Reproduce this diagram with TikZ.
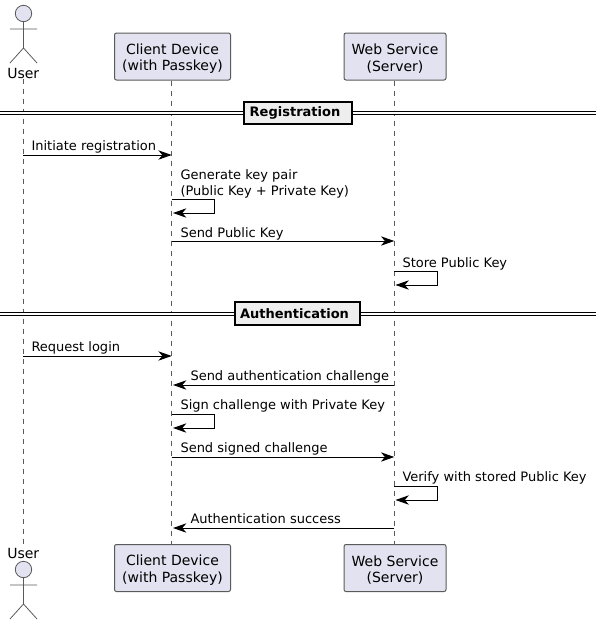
\documentclass[tikz,border=0pt]{standalone}
\usepackage{fontspec}
\setmainfont{DejaVu Sans}
\usetikzlibrary{arrows.meta}

\definecolor{partfill}{HTML}{E2E2F0}
\definecolor{partline}{HTML}{5A5A5A}
\definecolor{sepfill}{HTML}{EEEEEE}

\begin{document}
\begin{tikzpicture}[
            x = 0.75pt, % one unit is one pixel of the reference
            y = -0.75pt,
            > = {Stealth[length=10pt, width=7pt, inset=3pt]}, % arrow head style
            line width = 0.75pt
        ]

        \tikzset{
            part/.style = {
                draw = partline,
                fill = partfill,
                rounded corners = 1.5pt,
                align = center,
                inner sep = 0pt,
                font = \fontsize{10.5}{12.2}\selectfont
            },
            actorlabel/.style = {
                inner sep = 0pt,
                font = \fontsize{10.5}{12.2}\selectfont
            },
            figure/.style = {
                draw = partline,
                line width = 0.6pt
            },
            lifeline/.style = {
                draw = partline,
                line width = 0.5pt,
                dash pattern = on 3.75pt off 3.75pt
            },
            msg/.style = {
                ->,
                draw = black
            },
            msgtext/.style = {
                anchor = base west,
                align = left,
                inner sep = 0pt,
                font = \fontsize{9.75}{11.4}\selectfont
            },
            sepline/.style = {
                draw = black,
                double = white,
                double distance = 1.5pt,
                line width = 0.75pt
            },
            sepbox/.style = {
                draw = black,
                fill = sepfill,
                line width = 1.5pt,
                inner sep = 0pt,
                font = \fontsize{9.75}{11.4}\selectfont\bfseries
            }
        }

        \useasboundingbox (0,0) rectangle (601,625);

        % participants, top row
        \node[actorlabel] (user) at (23.3,73) {User};
        \node[part, minimum width=87pt, minimum height=35.25pt] (client) at (172.5,56.5) {\rule{0pt}{11pt}Client Device\\(with Passkey)};
        \node[part, minimum width=76.5pt, minimum height=35.25pt] (server) at (395,56.5) {\rule{0pt}{11pt}Web Service\\(Server)};

        % participants, bottom row
        \node[actorlabel] (userb) at (23.3,553) {User};
        \node[part, minimum width=87pt, minimum height=35.25pt] (clientb) at (172.5,568) {\rule{0pt}{11pt}Client Device\\(with Passkey)};
        \node[part, minimum width=76.5pt, minimum height=35.25pt] (serverb) at (395,568) {\rule{0pt}{11pt}Web Service\\(Server)};

        % stick figures
        \filldraw[figure, fill=partfill] (23.5,13.5) circle (8.2);
        \draw[figure] (23.5,21.7) -- (23.5,48) (10,29) -- (37,29) (10,63) -- (23.5,48) -- (37,63);
        \filldraw[figure, fill=partfill] (23.5,569.5) circle (8.2);
        \draw[figure] (23.5,577.7) -- (23.5,604) (10,585) -- (37,585) (10,619) -- (23.5,604) -- (37,619);

        % lifelines
        \draw[lifeline] (user.south -| 23.3,0) -- (userb.north -| 23.3,0);
        \draw[lifeline] (171.7,0 |- client.south) -- (171.7,0 |- clientb.north);
        \draw[lifeline] (394.3,0 |- server.south) -- (394.3,0 |- serverb.north);

        % ends of the messages
        \coordinate (u1) at (23.3,155);
        \coordinate (c1) at (171.7,155);
        \coordinate (c2a) at (171.7,199);
        \coordinate (c2r) at (214.5,213);
        \coordinate (c2b) at (173,213);
        \coordinate (c3) at (171.7,241);
        \coordinate (s3) at (394.3,241);
        \coordinate (s4a) at (394.3,271);
        \coordinate (s4r) at (437.5,285);
        \coordinate (s4b) at (395.5,285);
        \coordinate (u5) at (23.3,356);
        \coordinate (c5) at (171.7,356);
        \coordinate (s6) at (394.3,385);
        \coordinate (c6) at (173,385);
        \coordinate (c7a) at (171.7,414);
        \coordinate (c7r) at (214.5,428);
        \coordinate (c7b) at (173,428);
        \coordinate (c8) at (171.7,457);
        \coordinate (s8) at (394.3,457);
        \coordinate (s9a) at (394.3,486);
        \coordinate (s9r) at (437.5,500);
        \coordinate (s9b) at (395.5,500);
        \coordinate (s10) at (394.3,528);
        \coordinate (c10) at (173,528);

        % dividers
        \coordinate (regl) at (0,113);
        \coordinate (regr) at (596,113);
        \coordinate (authl) at (0,313.8);
        \coordinate (authr) at (596,313.8);
        \draw[sepline] (regl) -- (regr);
        \draw[sepline] (authl) -- (authr);
        \node[sepbox, minimum width=81pt, minimum height=17pt] (registration) at (298,113) {Registration\kern4.5pt};
        \node[sepbox, minimum width=94pt, minimum height=17pt] (authentication) at (297.5,313.8) {Authentication\kern4.5pt};

        % messages
        \draw[msg] (u1) -- (c1);
        \draw[msg] (c2a) -| (c2r) -- (c2b);
        \draw[msg] (c3) -- (s3);
        \draw[msg] (s4a) -| (s4r) -- (s4b);
        \draw[msg] (u5) -- (c5);
        \draw[msg] (s6) -- (c6);
        \draw[msg] (c7a) -| (c7r) -- (c7b);
        \draw[msg] (c8) -- (s8);
        \draw[msg] (s9a) -| (s9r) -- (s9b);
        \draw[msg] (s10) -- (c10);

        % message labels
        \node[msgtext] (t1) at (31,150.5) {Initiate registration};
        \node[msgtext] (t2) at (180,195) {Generate key pair\\(Public Key + Private Key)};
        \node[msgtext] (t3) at (180,237) {Send Public Key};
        \node[msgtext] (t4) at (402,267) {Store Public Key};
        \node[msgtext] (t5) at (31,351.5) {Request login};
        \node[msgtext] (t6) at (190,380.5) {Send authentication challenge};
        \node[msgtext] (t7) at (180,409.5) {Sign challenge with Private Key};
        \node[msgtext] (t8) at (180,452.5) {Send signed challenge};
        \node[msgtext] (t9) at (402,481.5) {Verify with stored Public Key};
        \node[msgtext] (t10) at (190,523.5) {Authentication success};
    \end{tikzpicture}
\end{document}
